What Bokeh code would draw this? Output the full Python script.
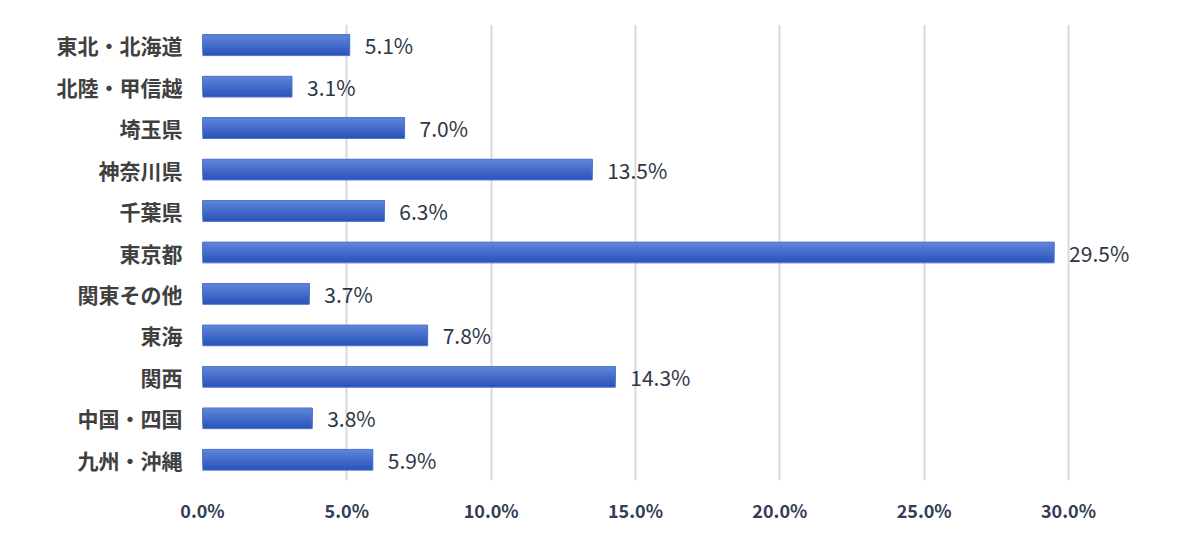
from bokeh.plotting import figure
from bokeh.models import ColumnDataSource, FixedTicker, FactorRange, Range1d
from bokeh.transform import dodge
from bokeh.core.properties import value
from bokeh.embed import file_html
from bokeh.resources import INLINE

categories = ["東北・北海道", "北陸・甲信越", "埼玉県", "神奈川県", "千葉県", "東京都",
              "関東その他", "東海", "関西", "中国・四国", "九州・沖縄"]
shares = [5.1, 3.1, 7.0, 13.5, 6.3, 29.5, 3.7, 7.8, 14.3, 3.8, 5.9]
tick_values = [0, 5, 10, 15, 20, 25, 30]
tick_labels = ["0.0%", "5.0%", "10.0%", "15.0%", "20.0%", "25.0%", "30.0%"]

labels = [f"{v:.1f}%" for v in shares]
src = ColumnDataSource(dict(cat=categories, val=shares, lab=labels))

FONT = "Noto Sans CJK JP"

p = figure(width=1192, height=525, output_backend="svg", toolbar_location=None,
           y_range=FactorRange(factors=list(reversed(categories))),
           x_range=Range1d(0, 32.84))
p.min_border_left = 202
p.min_border_right = 42
p.min_border_top = 24
p.min_border_bottom = 41
p.outline_line_color = None
p.background_fill_color = "white"
p.border_fill_color = "white"

# grid
p.ygrid.grid_line_color = None
p.xgrid.grid_line_color = "#d9d9d9"
p.xgrid.grid_line_width = 2
p.xaxis.ticker = FixedTicker(ticks=tick_values)
p.xaxis.major_label_overrides = {t: l for t, l in zip(tick_values, tick_labels)}
p.xaxis.axis_line_color = None
p.xaxis.major_tick_line_color = None
p.xaxis.minor_tick_line_color = None
p.xaxis.major_tick_out = 0
p.xaxis.major_tick_in = 0
p.xaxis.minor_tick_out = 0
p.xaxis.major_label_standoff = 16
p.xaxis.major_label_text_font = FONT
p.xaxis.major_label_text_font_size = "18px"
p.xaxis.major_label_text_font_style = "bold"
p.xaxis.major_label_text_color = "#323e52"

p.yaxis.axis_line_color = None
p.yaxis.major_tick_line_color = None
p.yaxis.minor_tick_line_color = None
p.yaxis.major_tick_out = 0
p.yaxis.major_tick_in = 0
p.yaxis.major_label_standoff = 20
p.yaxis.major_label_text_font = FONT
p.yaxis.major_label_text_font_size = "21px"
p.yaxis.major_label_text_font_style = "bold"
p.yaxis.major_label_text_color = "#404040"

# gradient-like bars: nested top-aligned bars from dark (full) to light (thin top)
bar_h = 0.5
n = 12
top_c = (0x5e, 0x84, 0xd8)
bot_c = (0x2b, 0x54, 0xbb)
for i in range(n):
    t = 1 - i / (n - 1)
    c = tuple(int(round(top_c[k] + (bot_c[k] - top_c[k]) * t)) for k in range(3))
    col = "#%02x%02x%02x" % c
    h = bar_h * (n - i) / n
    off = bar_h / 2 - h / 2
    p.hbar(y=dodge("cat", off, range=p.y_range), right="val", left=0, height=h,
           source=src, fill_color=col, line_color=None)
# thin outline
p.hbar(y="cat", right="val", left=0, height=bar_h, source=src, fill_color=None,
       line_color="#5078d0", line_width=1)

p.text(x="val", y="cat", text="lab", source=src, x_offset=15, text_baseline="middle",
       text_align="left", text_font=value(FONT), text_font_size="21px",
       text_color="#2e3646", text_font_style="normal")

open("out.html", "w").write(file_html(p, INLINE))
